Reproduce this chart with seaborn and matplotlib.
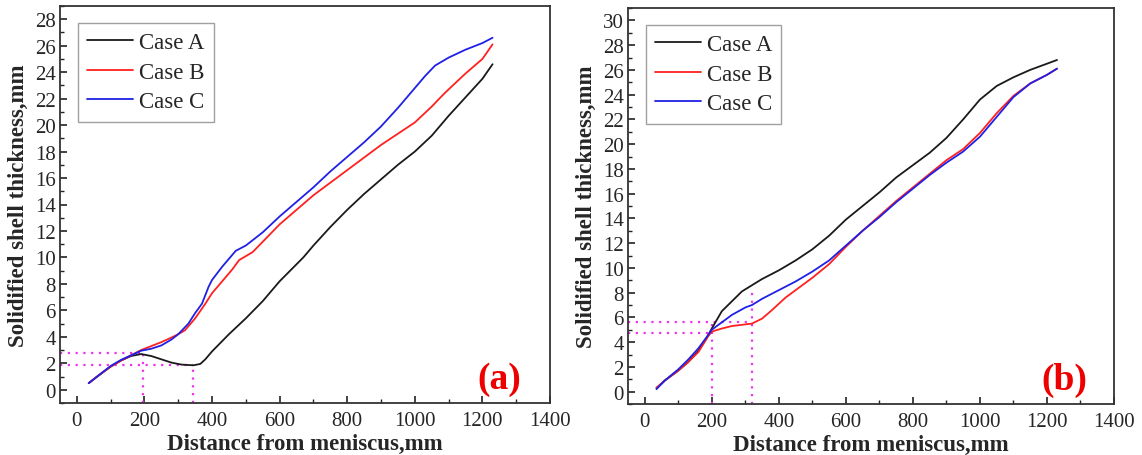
import matplotlib
matplotlib.use("Agg")
import matplotlib.pyplot as plt
import seaborn as sns
import pandas as pd
from matplotlib.ticker import MultipleLocator

# ---------------- data ----------------
case_names = ["Case A", "Case B", "Case C"]

a_A_x = [35, 60, 100, 130, 160, 190, 220, 250, 280, 310, 345, 365, 380, 400, 450, 500, 550, 600, 670, 700, 750, 800, 850, 900, 950, 1000, 1050, 1100, 1150, 1200, 1230]
a_A_y = [0.5, 1.0, 1.75, 2.2, 2.55, 2.7, 2.55, 2.3, 2.05, 1.9, 1.85, 1.95, 2.3, 2.9, 4.2, 5.4, 6.7, 8.2, 10.0, 10.9, 12.3, 13.6, 14.8, 15.9, 17.0, 18.0, 19.2, 20.7, 22.1, 23.5, 24.6]

a_B_x = [35, 60, 100, 130, 160, 190, 220, 250, 280, 300, 320, 350, 380, 400, 430, 460, 480, 520, 600, 700, 800, 900, 1000, 1050, 1080, 1100, 1150, 1200, 1230]
a_B_y = [0.5, 1.0, 1.75, 2.2, 2.6, 3.0, 3.3, 3.6, 3.95, 4.2, 4.5, 5.4, 6.5, 7.3, 8.2, 9.1, 9.8, 10.4, 12.5, 14.7, 16.6, 18.5, 20.2, 21.4, 22.2, 22.7, 23.9, 25.0, 26.1]

a_C_x = [35, 60, 100, 130, 160, 190, 220, 250, 280, 300, 330, 350, 370, 390, 400, 430, 470, 500, 550, 600, 650, 700, 750, 800, 850, 900, 950, 1000, 1030, 1060, 1100, 1150, 1200, 1230]
a_C_y = [0.5, 1.0, 1.8, 2.25, 2.6, 2.95, 3.1, 3.35, 3.8, 4.2, 5.0, 5.8, 6.5, 7.8, 8.3, 9.3, 10.5, 10.9, 11.9, 13.1, 14.2, 15.3, 16.5, 17.6, 18.7, 19.9, 21.3, 22.8, 23.7, 24.5, 25.1, 25.7, 26.2, 26.6]

b_A_x = [35, 60, 100, 130, 160, 190, 200, 215, 230, 260, 290, 320, 350, 400, 450, 500, 550, 600, 650, 700, 750, 800, 850, 900, 950, 1000, 1050, 1100, 1150, 1200, 1230]
b_A_y = [0.3, 0.9, 1.7, 2.4, 3.3, 4.6, 5.1, 5.8, 6.5, 7.3, 8.1, 8.6, 9.1, 9.8, 10.6, 11.5, 12.6, 13.9, 15.0, 16.1, 17.3, 18.3, 19.3, 20.5, 22.0, 23.6, 24.7, 25.4, 26.0, 26.5, 26.8]

b_B_x = [35, 60, 100, 130, 160, 190, 200, 230, 260, 290, 320, 350, 380, 420, 460, 500, 550, 600, 650, 700, 750, 800, 850, 900, 950, 1000, 1050, 1100, 1150, 1200, 1230]
b_B_y = [0.3, 0.9, 1.7, 2.4, 3.2, 4.5, 4.85, 5.1, 5.3, 5.4, 5.5, 5.9, 6.6, 7.6, 8.4, 9.2, 10.3, 11.7, 13.0, 14.2, 15.4, 16.5, 17.6, 18.7, 19.6, 20.9, 22.5, 23.9, 24.9, 25.6, 26.1]

b_C_x = [35, 60, 100, 130, 160, 190, 200, 230, 260, 300, 320, 350, 400, 450, 500, 550, 600, 650, 700, 750, 800, 850, 900, 950, 1000, 1050, 1100, 1150, 1200, 1230]
b_C_y = [0.2, 0.9, 1.8, 2.6, 3.5, 4.6, 5.0, 5.6, 6.2, 6.8, 7.0, 7.5, 8.2, 8.9, 9.7, 10.6, 11.8, 13.0, 14.1, 15.3, 16.4, 17.5, 18.5, 19.4, 20.6, 22.2, 23.8, 24.9, 25.6, 26.1]

# guide (dotted) lines: x mark, y mark, top of the vertical segment
a_marks_x = [195, 345]
a_marks_y = [2.8, 1.85]
a_marks_top = [2.8, 1.85]
b_marks_x = [200, 320]
b_marks_y = [4.75, 5.6]
b_marks_top = [5.6, 8.4]

x_ticks = [0, 200, 400, 600, 800, 1000, 1200, 1400]
a_yticks = list(range(0, 29, 2))
b_yticks = list(range(0, 31, 2))
panel_labels = ["(a)", "(b)"]

# ---------------- style ----------------
sns.set_style("white")
serif = ["Liberation Serif", "DejaVu Serif"]
plt.rcParams["font.family"] = serif

palette = {"Case A": "#1a1a1a", "Case B": "#ff2020", "Case C": "#2020e6"}
guide_color = "#ee33ee"

fig = plt.figure(figsize=(11.42, 4.56), dpi=100)
ax_a = fig.add_axes([60 / 1142, 52 / 456, 490 / 1142, 397 / 456])
ax_b = fig.add_axes([628 / 1142, 51 / 456, 486 / 1142, 396 / 456])


def make_df(xs, ys):
    frames = []
    for name, x, y in zip(case_names, xs, ys):
        frames.append(pd.DataFrame({"x": x, "y": y, "case": name}))
    return pd.concat(frames, ignore_index=True)


df_a = make_df([a_A_x, a_B_x, a_C_x], [a_A_y, a_B_y, a_C_y])
df_b = make_df([b_A_x, b_B_x, b_C_x], [b_A_y, b_B_y, b_C_y])

specs = [
    (ax_a, df_a, a_yticks, (-1, 29), a_marks_x, a_marks_y, a_marks_top, panel_labels[0]),
    (ax_b, df_b, b_yticks, (-1, 31), b_marks_x, b_marks_y, b_marks_top, panel_labels[1]),
]

for ax, df, yt, ylim, mx, my, mtop, plabel in specs:
    sns.lineplot(data=df, x="x", y="y", hue="case", palette=palette,
                 hue_order=case_names, ax=ax, linewidth=1.3, sort=False,
                 estimator=None)
    ax.set_xlim(-50, 1400)
    ax.set_ylim(*ylim)
    for xm, ym, top in zip(mx, my, mtop):
        ax.plot([-50, xm], [ym, ym], linestyle=(0, (1, 2.5)), color=guide_color,
                linewidth=1.6, zorder=1)
        ax.plot([xm, xm], [ylim[0], top], linestyle=(0, (1, 2.5)), color=guide_color,
                linewidth=1.6, zorder=1)
    ax.set_xticks(x_ticks)
    ax.set_yticks(yt)
    ax.xaxis.set_minor_locator(MultipleLocator(100))
    ax.yaxis.set_minor_locator(MultipleLocator(1))
    ax.tick_params(which="both", bottom=True, left=True, top=False, right=False)
    ax.tick_params(which="major", direction="in", length=5, width=1.2,
                   labelsize=15, pad=6, color="#222222")
    ax.tick_params(which="minor", direction="in", length=3, width=1.0, color="#222222")
    ax.tick_params(axis="y", which="major", pad=3)
    for s in ax.spines.values():
        s.set_linewidth(1.3)
        s.set_color("#333333")
    ax.set_xlabel("Distance from meniscus,mm", fontsize=16.5, fontweight="bold", labelpad=2)
    ax.set_ylabel("Solidified shell thickness,mm", fontsize=16.5, fontweight="bold", labelpad=4)
    leg = ax.legend(loc="upper left", bbox_to_anchor=(0.037, 0.958), fontsize=16.5,
                    frameon=True, fancybox=False, handlelength=2.0, handletextpad=0.25,
                    borderpad=0.4, labelspacing=0.38, borderaxespad=0)
    leg.get_frame().set_edgecolor("#888888")
    leg.get_frame().set_linewidth(1.0)
    ax.text(0.897, 0.062, plabel, transform=ax.transAxes, color="#ee0000",
            fontsize=27, fontweight="bold", ha="center", va="center")

fig.savefig("out.png", dpi=100, facecolor="white")
